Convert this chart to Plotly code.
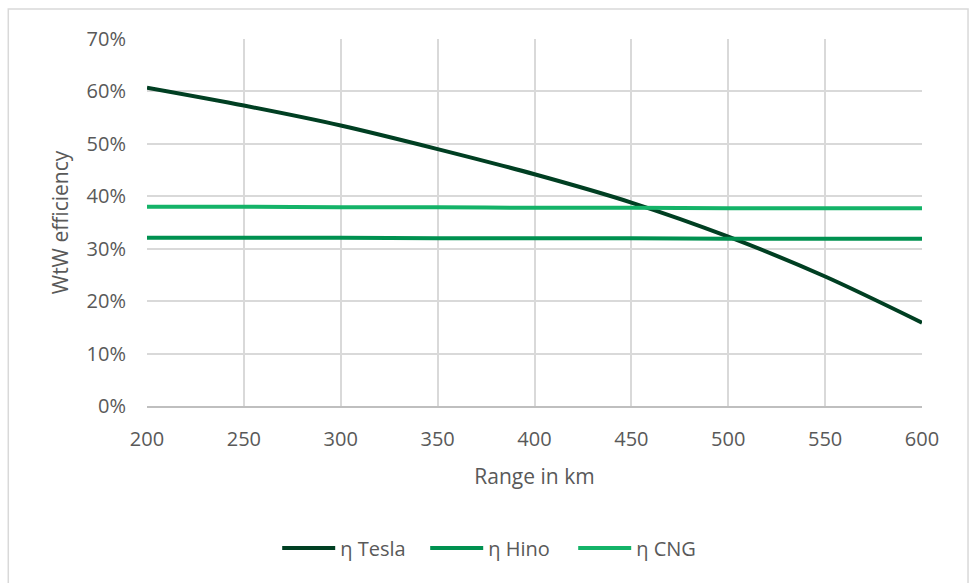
import plotly.graph_objects as go

# Driving range (km) and well-to-wheel efficiency (%) per drivetrain
range_km = [200, 250, 300, 350, 400, 450, 500, 550, 600]
eta_tesla = [60.7, 57.3, 53.5, 49.0, 44.2, 38.8, 32.3, 24.7, 15.9]
eta_hino = [32.1, 32.1, 32.1, 32.0, 32.0, 32.0, 31.9, 31.9, 31.9]
eta_cng = [38.0, 38.0, 37.9, 37.9, 37.8, 37.8, 37.7, 37.7, 37.7]

x_ticks = [200, 250, 300, 350, 400, 450, 500, 550, 600]
y_ticks = [0, 10, 20, 30, 40, 50, 60, 70]
y_tick_text = [f"{v}%" for v in y_ticks]

FONT = "Open Sans, Noto Sans, sans-serif"
GREY = "#595959"

fig = go.Figure()
series = [
    ("η Tesla", eta_tesla, "#003f22"),
    ("η Hino", eta_hino, "#009150"),
    ("η CNG", eta_cng, "#14b368"),
]
for name, vals, color in series:
    fig.add_trace(go.Scatter(
        x=range_km, y=vals, name=name, mode="lines",
        line=dict(color=color, width=4, shape="spline", smoothing=0.8),
        hoverinfo="skip",
    ))

# light frame around the chart area (bottom edge runs past the page)
fig.add_shape(type="rect", xref="paper", yref="paper",
              x0=-0.179, x1=1.0594, y0=-0.52, y1=1.0817,
              line=dict(color="#d9d9d9", width=1.5), layer="below")

fig.update_layout(
    width=973, height=583,
    margin=dict(l=147, r=51, t=39, b=177),
    paper_bgcolor="white", plot_bgcolor="white",
    font=dict(family=FONT, color=GREY, size=20),
    showlegend=True,
    legend=dict(orientation="h", x=0.168, xanchor="left",
                y=-0.387, yanchor="middle",
                font=dict(size=20, color=GREY),
                itemwidth=53,
                entrywidth=80, entrywidthmode="pixels",
                traceorder="normal"),
    xaxis=dict(range=[200, 600], tickvals=x_ticks,
               showgrid=True, gridcolor="#d9d9d9", gridwidth=2,
               showline=True, linecolor="#bfbfbf", linewidth=2,
               zeroline=False, ticks="", ticklabelstandoff=14,
               tickfont=dict(size=20, color=GREY),
               title=dict(text="Range in km", standoff=18,
                          font=dict(size=21, color=GREY))),
    yaxis=dict(range=[0, 70], tickvals=y_ticks, ticktext=y_tick_text,
               showgrid=True, gridcolor="#d9d9d9", gridwidth=2,
               showline=False, zeroline=False, ticks="",
               ticklabelstandoff=20,
               tickfont=dict(size=20, color=GREY),
               title=dict(text="WtW efficiency", standoff=12,
                          font=dict(size=21, color=GREY))),
)

fig.write_html("out.html")
